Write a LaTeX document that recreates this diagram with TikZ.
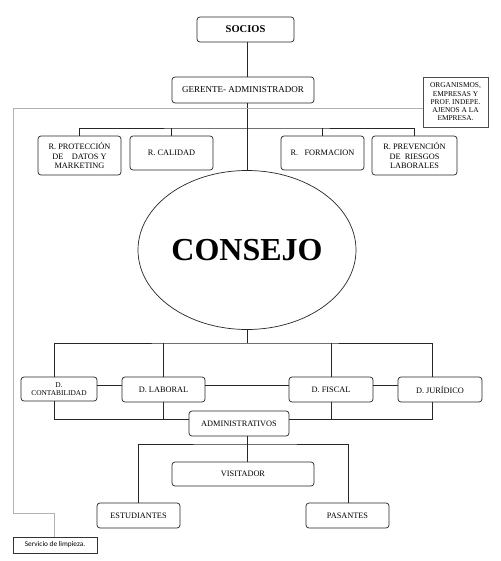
\documentclass[tikz,border=0pt]{standalone}
\usepackage{fontspec}
\setmainfont{Liberation Serif}
\newfontfamily\servfont{Carlito}
\usetikzlibrary{shapes.geometric}
\begin{document}
\begin{tikzpicture}[x=1pt,y=-1pt,
  box/.style={draw=black!85,line width=0.7pt,rounded corners=3pt,inner sep=1pt,align=center,font=\fontsize{8.3}{9.5}\selectfont},
  link/.style={draw=black!85,line width=0.7pt},
  graylink/.style={draw=black!30,line width=0.7pt}]
\useasboundingbox (0,0) rectangle (500,561);
\fill[white] (0,0) rectangle (500,561);

\node[box,minimum width=97pt,minimum height=25pt,font=\fontsize{10.5}{12}\selectfont\bfseries] (socios) at (245.5,29.5) {SOCIOS};
\node[box,minimum width=142pt,minimum height=26pt,font=\fontsize{9}{10}\selectfont] (gerente) at (243,90) {GERENTE- ADMINISTRADOR};
\node[draw=black!70,line width=0.8pt,minimum width=65pt,minimum height=50pt,inner sep=1pt,align=center,font=\fontsize{7.4}{8.3}\selectfont] (org) at (455.5,102) {ORGANISMOS,\\EMPRESAS Y\\PROF. INDEPE.\\AJENOS A LA\\EMPRESA.};

\node[box,minimum width=83pt,minimum height=39pt] (rprot) at (79.5,155.5) {R. PROTECCIÓN\\DE\ \ \ \ DATOS Y\\MARKETING};
\node[box,minimum width=83pt,minimum height=34pt] (rcal) at (171.5,153) {R. CALIDAD};
\node[box,minimum width=83pt,minimum height=34pt] (rform) at (322.5,153) {R.\ \ \ FORMACION};
\node[box,minimum width=85pt,minimum height=39pt] (rprev) at (414.5,155.5) {R. PREVENCIÓN\\DE\ \ RIESGOS\\LABORALES};

\node[draw=black!85,line width=0.7pt,ellipse,minimum width=218pt,minimum height=159pt,inner sep=0pt,font=\fontsize{32}{36}\selectfont\bfseries] (consejo) at (247,250) {CONSEJO};

\node[box,minimum width=76pt,minimum height=24pt,font=\fontsize{7.4}{8.5}\selectfont] (dcont) at (59,389) {D.\\CONTABILIDAD};
\node[box,minimum width=83pt,minimum height=25pt] (dlab) at (163.5,389.5) {D. LABORAL};
\node[box,minimum width=84pt,minimum height=25pt] (dfis) at (331,389.5) {D. FISCAL};
\node[box,minimum width=84pt,minimum height=25pt] (djur) at (440,389.5) {D. JURÍDICO};
\node[box,minimum width=100pt,minimum height=25pt] (admin) at (239,423.5) {ADMINISTRATIVOS};
\node[box,minimum width=142pt,minimum height=24pt] (visit) at (243,474) {VISITADOR};
\node[box,minimum width=83pt,minimum height=25pt] (estud) at (138.5,515.5) {ESTUDIANTES};
\node[box,minimum width=83pt,minimum height=25pt] (pasan) at (347.5,515.5) {PASANTES};
\node[draw=black!80,line width=0.7pt,minimum width=84pt,minimum height=16pt,inner sep=1pt,font=\fontsize{7.3}{8}\servfont] (serv) at (55,545) {Servicio de limpieza.};

% coordinates
\coordinate (b1) at (247,128);
\coordinate (b2) at (247,343);
\coordinate (b3) at (247,419);
\coordinate (c1) at (247,385);
\coordinate (b4) at (247,444);
\coordinate (g1) at (13,108);
\coordinate (g2) at (13,513);
\coordinate (g3) at (54,513);

% connectors
\draw[link] (socios.south -| b1) -- (gerente.north -| b1);
\draw[link] (gerente.south -| b1) -- (consejo.north);
\draw[link] (rprot.north) |- (b1) -| (rprev.north);
\draw[link] (rcal.north) -- (rcal.north |- b1);
\draw[link] (rform.north) -- (rform.north |- b1);

\draw[link] (consejo.south) -- (b2);
\draw[link] ([xshift=-5pt]dcont.north) |- (b2) -| ([xshift=-8pt]djur.north);
\draw[link] ([xshift=-0.5pt]dlab.north) -- ([xshift=-0.5pt]dlab.north |- b2);
\draw[link] (dfis.north) -- (dfis.north |- b2);

\draw[link] (dcont.east |- c1) -- (dlab.west |- c1);
\draw[link] (dlab.east |- c1) -- (dfis.west |- c1);
\draw[link] (dfis.east |- c1) -- (djur.west |- c1);

\draw[link] ([xshift=-5pt]dcont.south) |- (admin.west |- b3);
\draw[link] ([xshift=-8pt]djur.south) |- (admin.east |- b3);
\draw[link] ([xshift=-0.5pt]dlab.south) -- ([xshift=-0.5pt]dlab.south |- b3);
\draw[link] (dfis.south) -- (dfis.south |- b3);

\draw[link] (admin.south -| b4) -- (visit.north -| b4);
\draw[link] ([xshift=-0.5pt]estud.north) |- (b4) -| ([xshift=0.5pt]pasan.north);

\draw[graylink] (org.west |- g1) -- (g1) -- (g2) -- (g3) -- (g3 |- serv.north);
\end{tikzpicture}
\end{document}
